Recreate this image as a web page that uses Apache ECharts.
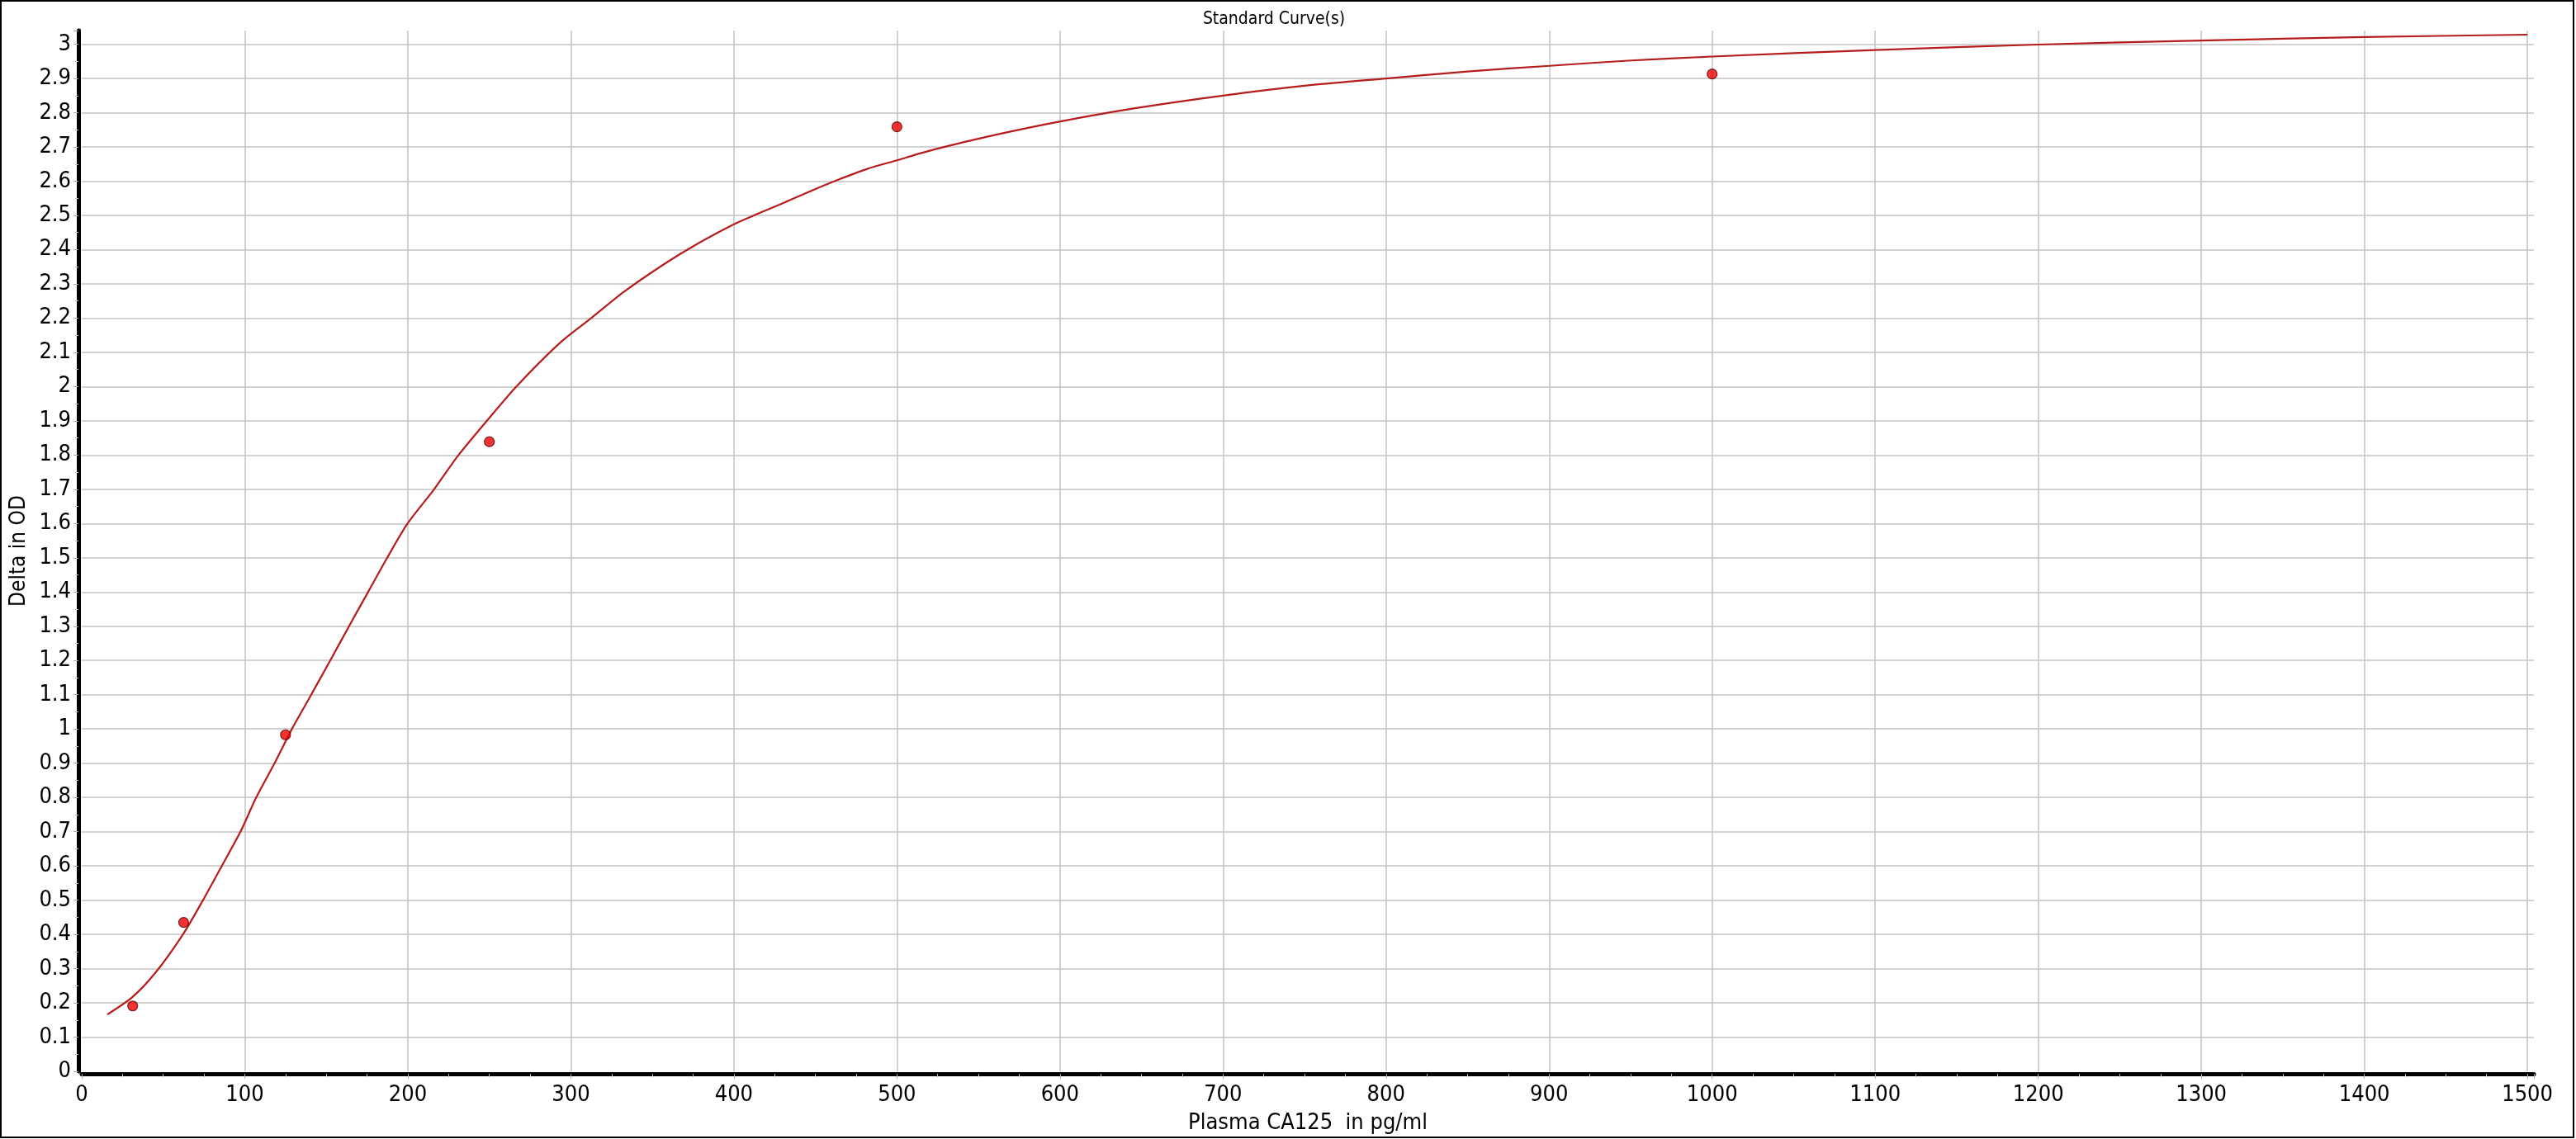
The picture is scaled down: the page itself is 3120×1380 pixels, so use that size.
<!DOCTYPE html>
<html>
<head>
<meta charset="utf-8">
<script src="https://cdn.jsdelivr.net/npm/echarts@6/dist/echarts.min.js"></script>
<style>
html,body{margin:0;padding:0;background:#fff;}
#chart{width:3120px;height:1380px;}
</style>
</head>
<body>
<div id="chart"></div>
<script>
// Standards (calibrators): concentration (pg/ml) and measured delta OD
const stdConc = [31.25, 62.5, 125, 250, 500, 1000];
const stdOD = [0.191, 0.435, 0.983, 1.839, 2.759, 2.913];

// Fitted standard curve
const curveX = [15.7, 30.9, 45.2, 62.1, 73.1, 85.7, 97.6, 106.8, 118.6, 128.8, 138.6, 152.2, 163.8, 175.4, 187, 199.7, 216.1, 230.6, 248.1, 266.5, 293.6, 313, 332.3, 357.6, 376.9, 400, 414.3, 431.2, 448, 464.9, 481.8, 500, 515.5, 532.4, 560.9, 599.6, 646, 700, 754.7, 800, 851.6, 900.4, 948.4, 1000, 1100, 1200, 1300, 1400, 1500];
const curveY = [0.166, 0.216, 0.288, 0.400, 0.489, 0.598, 0.702, 0.798, 0.903, 0.999, 1.082, 1.198, 1.299, 1.398, 1.497, 1.599, 1.700, 1.797, 1.898, 2.000, 2.129, 2.202, 2.276, 2.359, 2.415, 2.474, 2.504, 2.538, 2.573, 2.606, 2.636, 2.661, 2.683, 2.704, 2.736, 2.774, 2.813, 2.850, 2.881, 2.900, 2.921, 2.937, 2.952, 2.964, 2.983, 2.999, 3.011, 3.021, 3.028];

// Axis settings
const xMin = 0, xMax = 1504, xStep = 100;
const yMin = 0, yMax = 3.04, yStep = 0.1;

const titleText = 'Standard Curve(s)';
const xName = 'Plasma CA125  in pg/ml';
const yName = 'Delta in OD';

const FONT = '"DejaVu Sans Condensed", "Liberation Sans", sans-serif';

const chart = echarts.init(document.getElementById('chart'), null, {renderer: 'canvas'});

const stdData = stdConc.map((x, i) => [x, stdOD[i]]);
const curveData = curveX.map((x, i) => [x, curveY[i]]);

chart.setOption({
  backgroundColor: '#ffffff',
  animation: false,
  title: {
    text: titleText,
    left: 1538,
    top: 8,
    textAlign: 'center',
    textStyle: {fontFamily: FONT, fontSize: 21, fontWeight: 'normal', color: '#000'}
  },
  grid: {left: 99, right: 51, top: 37, bottom: 82, containLabel: false, outerBoundsMode: 'none'},
  xAxis: {
    type: 'value',
    min: xMin, max: xMax, interval: xStep,
    offset: 3,
    name: xName,
    nameLocation: 'middle',
    nameGap: 46,
    nameTextStyle: {fontFamily: FONT, fontSize: 27, color: '#000'},
    axisLine: {show: true, onZero: false, lineStyle: {color: '#000', width: 5}},
    axisTick: {show: true, length: 6, lineStyle: {color: '#aaa', width: 1}},
    minorTick: {show: true, splitNumber: 4, length: 4, lineStyle: {color: '#bbb', width: 1}},
    axisLabel: {
      fontFamily: FONT, fontSize: 27, color: '#000', margin: 12,
      showMaxLabel: false,
      formatter: v => (v % xStep === 0 ? String(v) : '')
    },
    splitLine: {show: true, showMaxLine: false, showMinLine: false, lineStyle: {color: '#c3c3c3', width: 1.5}}
  },
  yAxis: {
    type: 'value',
    min: yMin, max: yMax, interval: yStep,
    offset: 4,
    name: yName,
    nameLocation: 'middle',
    nameGap: 57,
    nameRotate: 90,
    nameTextStyle: {fontFamily: FONT, fontSize: 26, color: '#000'},
    axisLine: {show: true, onZero: false, lineStyle: {color: '#000', width: 5}},
    axisTick: {show: true, length: 6, lineStyle: {color: '#aaa', width: 1}},
    minorTick: {show: true, splitNumber: 2, length: 4, lineStyle: {color: '#bbb', width: 1}},
    axisLabel: {
      fontFamily: FONT, fontSize: 27, color: '#000', margin: 9,
      showMaxLabel: false,
      formatter: v => {
        const r = Math.round(v * 10) / 10;
        return Math.abs(r - v) < 1e-6 ? String(r) : '';
      }
    },
    splitLine: {show: true, showMaxLine: false, showMinLine: false, lineStyle: {color: '#c3c3c3', width: 1.5}}
  },
  graphic: [{
    type: 'rect',
    shape: {x: 1, y: 1, width: 3116, height: 1377},
    style: {fill: 'none', stroke: '#000', lineWidth: 2},
    silent: true,
    z: 100
  }],
  series: [
    {
      name: 'Curve',
      type: 'line',
      data: curveData,
      showSymbol: false,
      smooth: 0.25,
      clip: false,
      lineStyle: {color: '#b71c1c', width: 2.2},
      z: 3
    },
    {
      name: 'Standards',
      type: 'scatter',
      data: stdData,
      symbol: 'circle',
      symbolSize: 12,
      itemStyle: {color: '#ee0000', borderColor: '#5a0000', borderWidth: 1.2},
      z: 4
    }
  ]
});
</script>
</body>
</html>
